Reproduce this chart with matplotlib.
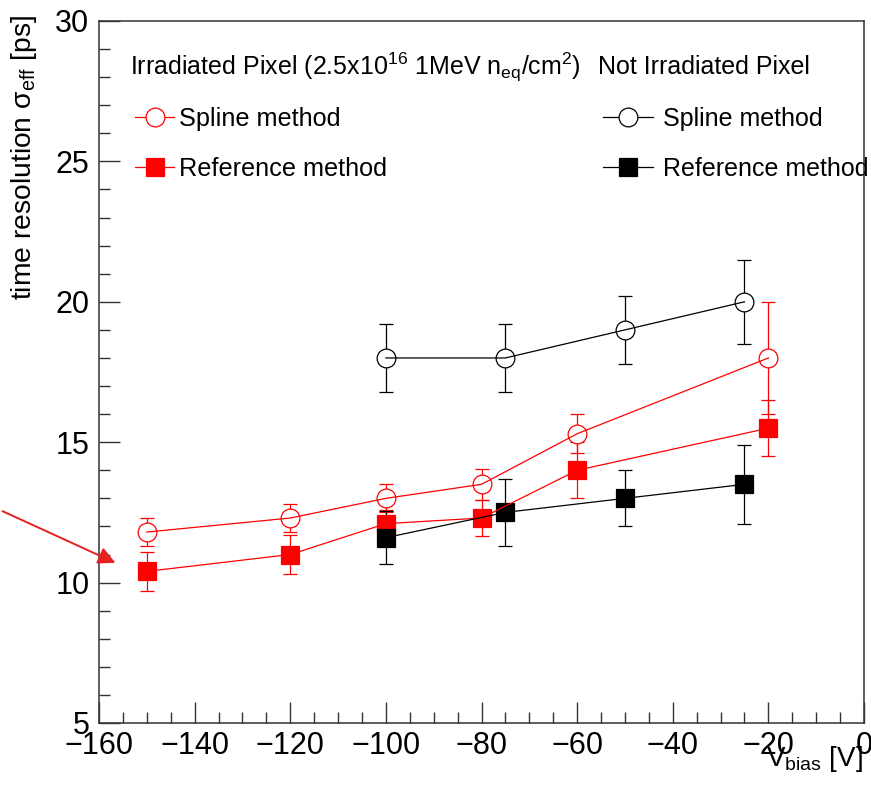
import numpy as np
import matplotlib
matplotlib.use("Agg")
import matplotlib.pyplot as plt
from matplotlib.lines import Line2D

plt.rcParams['font.family'] = ['Liberation Sans', 'DejaVu Sans']
plt.rcParams['mathtext.fontset'] = 'custom'
plt.rcParams['mathtext.rm'] = 'Liberation Sans'
plt.rcParams['mathtext.it'] = 'Liberation Sans:italic'
plt.rcParams['mathtext.bf'] = 'Liberation Sans:bold'

# irradiated pixel (red)
irr_v = [-150, -120, -100, -80, -60, -20]
irr_spline = [11.8, 12.3, 13.0, 13.5, 15.3, 18.0]
irr_spline_err = [0.5, 0.5, 0.5, 0.55, 0.7, 2.0]
irr_ref = [10.4, 11.0, 12.1, 12.3, 14.0, 15.5]
irr_ref_err = [0.7, 0.7, 0.5, 0.65, 1.0, 1.0]

# not irradiated pixel (black)
nirr_v = [-100, -75, -50, -25]
nirr_spline = [18.0, 18.0, 19.0, 20.0]
nirr_spline_err = [1.2, 1.2, 1.2, 1.5]
nirr_ref = [11.6, 12.5, 13.0, 13.5]
nirr_ref_err = [0.95, 1.2, 1.0, 1.4]

W, H = 871, 787
fig = plt.figure(figsize=(W / 100, H / 100), dpi=100)
ax = fig.add_axes([99 / W, 1 - 723 / H, 765 / W, 702 / H])

lw = 0.9
ms = 13.5


def draw_series(x, y, err, color, marker):
    ax.errorbar(x, y, yerr=err, fmt='none', ecolor=color, elinewidth=lw,
                capsize=5, capthick=lw, zorder=2)
    face = 'white' if marker == 'o' else color
    ax.plot(x, y, linestyle='none', marker=marker, markersize=ms,
            markerfacecolor=face, markeredgecolor=color, markeredgewidth=lw, zorder=3)
    ax.plot(x, y, color=color, linewidth=lw, zorder=4)


draw_series(irr_v, irr_spline, irr_spline_err, 'red', 'o')
draw_series(irr_v, irr_ref, irr_ref_err, 'red', 's')
draw_series(nirr_v, nirr_spline, nirr_spline_err, 'black', 'o')
draw_series(nirr_v, nirr_ref, nirr_ref_err, 'black', 's')

ax.set_xlim(-160, 0)
ax.set_ylim(5, 30)
ax.set_xticks(np.arange(-160, 1, 20))
ax.set_xticks(np.arange(-160, 1, 5), minor=True)
ax.set_yticks(np.arange(5, 31, 5))
ax.set_yticks(np.arange(5, 31, 1), minor=True)
ax.tick_params(which='both', direction='in', top=False, right=False,
               color='#333333', width=1.0, labelsize=22)
ax.tick_params(which='major', length=15)
ax.tick_params(which='minor', length=8)
ax.tick_params(axis='y', pad=7)
ax.tick_params(axis='x', pad=6)
for s in ax.spines.values():
    s.set_linewidth(1.1)
    s.set_color('#333333')

ax.set_ylabel('time resolution σ$_{\\mathrm{eff}}$ [ps]', fontsize=20.3, loc='top')
ax.yaxis.set_label_coords(-0.078, 1.009)
ax.set_xlabel(r'V$_{\mathrm{bias}}$ [V]', fontsize=20, loc='right')
ax.xaxis.set_label_coords(0.998, -0.03)

# headers
fig.text(130 / W, 1 - 67 / H,
         r'Irradiated Pixel (2.5x10$^{16}$ 1MeV n$_{\mathrm{eq}}$/cm$^{2}$)',
         fontsize=18, va='center', ha='left')
fig.text(598 / W, 1 - 67 / H, 'Not Irradiated Pixel', fontsize=18, va='center', ha='left')

# legends
red_h = [Line2D([], [], color='red', lw=lw, marker='o', ms=ms, mfc='white', mec='red', mew=lw),
         Line2D([], [], color='red', lw=lw, marker='s', ms=ms, mfc='red', mec='red', mew=lw)]
blk_h = [Line2D([], [], color='black', lw=lw, marker='o', ms=ms, mfc='white', mec='black', mew=lw),
         Line2D([], [], color='black', lw=lw, marker='s', ms=ms, mfc='black', mec='black', mew=lw)]
labels = ['Spline method', 'Reference method']

leg1 = fig.legend(red_h, labels, loc='center left', bbox_to_anchor=(135 / W, 1 - 144 / H),
                  frameon=False, fontsize=18.2, borderpad=0, borderaxespad=0,
                  handlelength=1.55, handletextpad=0.2, labelspacing=1.03)
leg2 = fig.legend(blk_h, labels, loc='center left', bbox_to_anchor=(603 / W, 1 - 144 / H),
                  frameon=False, fontsize=18.0, borderpad=0, borderaxespad=0,
                  handlelength=2.0, handletextpad=0.4, labelspacing=1.05)

# red arrow pointing at the leftmost point
fig.patches.append(matplotlib.patches.FancyArrowPatch(
    (0, 1 - 510 / H), (118 / W, 1 - 564 / H), transform=fig.transFigure,
    arrowstyle='-|>', mutation_scale=26, color='#e52222', lw=1.4))

fig.savefig('out.png', dpi=100)
